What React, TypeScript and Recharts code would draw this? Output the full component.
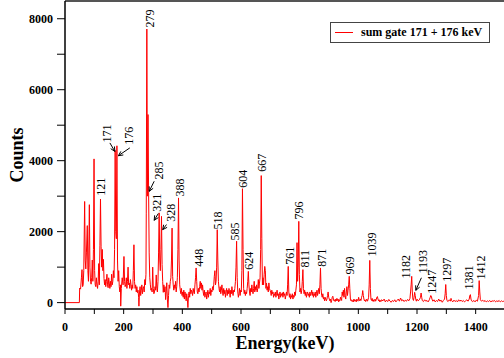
import React from "react"
import {
  ComposedChart,
  Line,
  Scatter,
  XAxis,
  YAxis,
  ReferenceLine,
  Label,
} from "recharts"

// spectrum: [energy keV, counts]
const spectrumLow: [number, number][] = [
  [0, 0], [49, 0], [50, 410], [53, 380], [56, 700], [58, 930], [60, 450], [62, 500], [64, 900],
  [67, 2850], [69, 1200], [71, 950], [73, 1400], [76, 2170], [78, 900], [80, 600], [83, 2760],
  [85, 1000], [87, 600], [89, 520], [91, 700], [93, 1200], [95, 600], [97, 1500], [99, 4050],
  [101, 900], [103, 500], [105, 450], [107, 700], [109, 500], [111, 400], [113, 600], [115, 1100],
  [117, 500], [119, 1600], [121, 2920], [123, 1590], [125, 1000], [127, 1500], [129, 900],
  [131, 1220], [133, 680], [135, 500], [137, 650], [139, 450], [141, 600], [143, 800], [145, 500],
  [147, 420], [149, 700], [151, 550], [153, 400], [155, 600], [157, 450], [159, 800], [161, 500],
  [163, 600], [165, 900], [167, 700], [169, 1500], [171, 4290], [173, 2000], [175, 1800],
  [177, 4420], [179, 1200], [181, 600], [183, 900], [185, 450], [187, 300], [189, 500], [190, -100],
  [192, 400], [195, 700], [198, 500], [201, 1300], [203, 600], [205, 450], [207, 500], [209, 700],
  [211, 400], [213, 600], [215, 1000], [217, 500], [219, 550], [221, 400], [223, 650], [225, 500],
  [227, 350], [229, 500], [231, 400], [233, 900], [235, 1630], [237, 600], [239, 400], [241, 500],
  [243, 300], [245, 450], [247, 280], [249, 350], [251, 150], [252, -100], [254, 300], [256, 450],
  [258, 200], [260, 350], [262, 500], [264, 250], [266, 400], [268, 450], [270, 300], [272, 650],
  [274, 500], [276, 800], [277, 2500], [279, 7710], [281, 3000], [283, 5300], [285, 3140],
  [287, 1400], [289, 700], [291, 500], [293, 350], [295, 400], [297, 300], [299, 1000], [301, 400],
  [303, 250], [305, 300], [307, 450], [309, 350], [311, 780], [313, 400], [315, 300], [317, 600],
  [319, 1400], [321, 2530], [323, 1200], [325, 900], [327, 1500], [329, 2430], [331, 1070],
  [333, 600], [335, 290], [337, 500], [339, 300], [341, 450], [343, 85], [345, 300], [347, 560],
  [349, 100],
]

const spectrumMid: [number, number][] = [
  [351, -140], [353, 200], [355, 500], [357, 400], [359, 600], [361, 700], [363, 1200], [365, 2100],
  [367, 740], [369, 500], [371, 350], [373, 500], [375, 400], [377, 600], [379, 300], [381, 450],
  [383, 700], [385, 1500], [387, 2950], [389, 1200], [391, 500], [393, 350], [395, 250], [397, 400],
  [399, 200], [401, 300], [403, 150], [405, 350], [407, 100], [409, 300], [411, 200], [413, 50],
  [415, 250], [417, 100], [419, -140], [421, 200], [423, 300], [425, 150], [427, 400], [429, 250],
  [431, 350], [433, 300], [435, 200], [437, 400], [439, 300], [441, 250], [443, 500], [445, 700],
  [447, 977], [449, 600], [451, 300], [453, 250], [455, 400], [457, 300], [459, 450], [461, 600],
  [463, 400], [465, 555], [467, 350], [469, 500], [471, 300], [473, 200], [475, 350], [477, 150],
  [479, 250], [481, 300], [483, 100], [485, 200], [487, 350], [489, 150], [491, 300], [493, 250],
  [495, 400], [497, 200], [499, 350], [501, 300], [503, 450], [505, 350], [507, 500], [509, 740],
  [511, 900], [513, 500], [515, 600], [517, 1000], [519, 2056], [521, 1200], [523, 600], [525, 400],
  [527, 300], [529, 450], [531, 250], [533, 350], [535, 500], [537, 300], [539, 200], [541, 400],
  [543, 250], [545, 350], [547, 150], [549, 300], [551, 400], [553, 200], [555, 350], [557, 250],
  [559, 400], [561, 300], [563, 150], [565, 350], [567, 250], [569, 450], [571, 300], [573, 200],
  [575, 350], [577, 300], [579, 400], [581, 600], [583, 1000], [585, 1730], [587, 700], [589, 300],
  [591, 150], [593, 250], [595, 400], [597, 200], [599, 350], [601, 300], [603, 900], [605, 3210],
  [607, 1500], [609, 400], [611, 250], [613, 350], [615, 200], [617, 300], [619, 250], [621, 400],
  [623, 600], [625, 880], [627, 500], [629, 300], [631, 200], [633, 400], [635, 300], [637, 500],
  [639, 350], [641, 250], [643, 400], [645, 600], [647, 300], [649, 450], [651, 350], [653, 500],
  [655, 300], [657, 400], [659, 650], [661, 400], [663, 550], [665, 700], [667, 1500], [669, 3580],
  [671, 1800], [673, 500], [675, 700], [677, 500], [679, 800], [681, 1020], [683, 900], [685, 400],
  [687, 550], [689, 350], [691, 450], [693, 300], [695, 555], [697, 400], [699, 350],
]

const spectrumHigh: [number, number][] = [
  [701, 300], [703, 200], [705, 350], [707, 250], [709, 300], [711, 150], [713, 250], [715, 200],
  [717, 300], [719, 150], [721, 250], [723, 350], [725, 200], [727, 250], [729, 100], [731, 200],
  [733, 300], [735, 150], [737, 250], [739, 200], [741, 280], [743, 150], [745, 300], [747, 200],
  [749, 250], [751, 100], [753, 200], [755, 300], [757, 200], [759, 500], [761, 1020], [763, 300],
  [765, 150], [767, 250], [769, 100], [771, 200], [773, 150], [775, 250], [777, 100], [779, 200],
  [781, 150], [783, 300], [785, 200], [787, 350], [789, 500], [791, 1690], [793, 600], [795, 1000],
  [797, 2290], [799, 800], [801, 300], [803, 400], [805, 250], [807, 350], [809, 600], [811, 930],
  [813, 400], [815, 250], [817, 350], [819, 200], [821, 300], [823, 150], [825, 250], [827, 300],
  [829, 200], [831, 250], [833, 150], [835, 300], [837, 200], [839, 250], [841, 350], [843, 200],
  [845, 300], [847, 150], [849, 250], [851, 200], [853, 300], [855, 150], [857, 250], [859, 350],
  [861, 200], [863, 300], [865, 400], [867, 250], [869, 500], [871, 977], [873, 400], [875, 200],
  [877, 150], [879, 250], [881, 100], [883, 150], [885, 50], [887, 150], [889, 100], [891, 50],
  [893, 100], [895, 200], [897, 300], [899, 150], [901, 100], [903, 50], [905, 100], [907, 0],
  [909, 50], [911, 150], [913, 180], [915, 100], [917, 50], [919, 80], [921, 30], [923, 100],
  [925, 50], [927, 120], [929, 60], [931, 100], [933, 20], [935, 80], [937, 50], [939, 150],
  [941, 100], [943, 60], [945, 300], [947, 200], [949, 350], [951, 150], [953, 400], [955, 200],
  [957, 100], [959, 300], [961, 450], [963, 200], [965, 350], [967, 500], [969, 740], [971, 400],
  [973, 100], [975, 50], [977, 80], [979, 30], [981, 60], [983, 20], [985, 100], [987, 40],
  [989, 80], [991, 50], [993, 20], [995, 100], [997, 60], [999, 40], [1001, 150], [1003, 80],
  [1005, 50], [1007, 100], [1009, 60], [1011, 150], [1013, 200], [1015, 340], [1017, 200],
  [1019, 100], [1021, 50], [1023, 80], [1025, 30], [1027, 60], [1029, 100], [1031, 40], [1033, 80],
  [1035, 150], [1037, 500], [1039, 1190], [1041, 400], [1043, 100], [1045, 60], [1047, 120],
  [1049, 40], [1051, 80], [1053, 30], [1055, 60], [1057, 100], [1059, 40], [1061, 80], [1063, 150],
  [1065, 170], [1067, 100], [1069, 50], [1071, 80], [1073, 20], [1075, 60], [1077, 30], [1079, 80],
]

const spectrumTail: [number, number][] = [
  [1084, 50], [1088, 100], [1092, 20], [1096, 70], [1100, 30], [1104, 90], [1108, 40], [1112, 10],
  [1116, 60], [1120, 30], [1124, 80], [1128, 20], [1132, 60], [1136, 100], [1140, 40], [1144, 130],
  [1148, 50], [1152, 80], [1156, 30], [1160, 70], [1164, 40], [1168, 90], [1172, 50], [1176, 120],
  [1178, 300], [1180, 500], [1182, 740], [1184, 300], [1186, 100], [1188, 60], [1190, 150],
  [1192, 290], [1194, 200], [1196, 80], [1198, 40], [1200, 100], [1204, 50], [1208, 80],
  [1212, 150], [1214, 270], [1216, 150], [1218, 60], [1222, 30], [1226, 80], [1230, 40], [1234, 60],
  [1238, 20], [1242, 80], [1245, 150], [1247, 200], [1249, 180], [1251, 100], [1254, 40], [1258, 80],
  [1262, 20], [1266, 60], [1270, 30], [1274, 100], [1278, 40], [1282, 70], [1286, 10], [1290, 60],
  [1294, 100], [1296, 250], [1298, 510], [1300, 200], [1302, 60], [1306, 30], [1310, 80], [1314, 40],
  [1316, 120], [1318, 60], [1322, 20], [1326, 70], [1330, 30], [1334, 60], [1338, 20], [1342, 80],
  [1346, 40], [1350, 70], [1354, 30], [1358, 60], [1362, 20], [1366, 50], [1370, 80], [1374, 40],
  [1378, 100], [1380, 200], [1382, 225], [1384, 100], [1386, 50], [1390, 30], [1394, 60], [1398, 20],
  [1402, 70], [1406, 40], [1410, 200], [1412, 620], [1414, 300], [1416, 80], [1420, 40], [1424, 70],
  [1428, 30], [1432, 60], [1436, 20], [1440, 50], [1444, 30], [1448, 60], [1452, 20], [1456, 50],
  [1460, 40], [1464, 60], [1468, 20], [1472, 50], [1476, 30], [1480, 60], [1484, 20], [1488, 50],
  [1492, 30], [1496, 40], [1500, 30],
]

// peak labels: text, energy of the label position, counts at the foot of the text
const peakNames = ["121", "171", "176", "279", "285", "321", "328", "388", "448", "518", "585", "604", "624", "667", "761", "796", "811", "871", "969", "1039", "1182", "1193", "1247", "1297", "1381", "1412"]
const peakLabelE = [122, 143, 218, 289, 320, 313, 360, 391, 456, 521, 581, 606, 627, 670, 767, 799, 817, 875, 971, 1045, 1164, 1222, 1252, 1303, 1377, 1417]
const peakLabelC = [3010, 4510, 4450, 7750, 3470, 2560, 2280, 2990, 1010, 2060, 1750, 3240, 930, 3690, 1070, 2340, 990, 1010, 790, 1300, 680, 820, 250, 590, 370, 650]

// arrows: [fromE, fromC, toE, toC]
const arrows: [number, number, number, number][] = [
  [153, 4500, 170, 4260],
  [221, 4360, 182, 4140],
  [304, 3420, 287, 3135],
  [318, 2510, 304, 2320],
  [346, 2200, 333, 2056],
  [1215, 700, 1196, 346],
]

const xTicks = [0, 100, 200, 300, 400, 500, 600, 700, 800, 900, 1000, 1100, 1200, 1300, 1400, 1500]
const yTicks = [0, 1000, 2000, 3000, 4000, 5000, 6000, 7000, 8000]

const spectrum = [...spectrumLow, ...spectrumMid, ...spectrumHigh, ...spectrumTail].map(([e, c]) => ({ e, c }))
const labelData = peakNames.map((name, i) => ({ name, e: peakLabelE[i], c: peakLabelC[i] }))

const FONT = "'Liberation Serif', 'Times New Roman', serif"
const tickStyle = { fontFamily: FONT, fontWeight: "bold" as const, fontSize: 12, fill: "#000" }

const PeakLabel = (props: any) => {
  const { cx, cy, payload } = props
  if (cx == null || cy == null) return null
  const x = cx + 4
  return (
    <text
      x={x}
      y={cy}
      transform={`rotate(-90 ${x} ${cy})`}
      textAnchor="start"
      fontFamily={FONT}
      fontSize={12}
      fill="#000"
    >
      {payload.name}
    </text>
  )
}

const Arrow = (props: any) => {
  const { x1, y1, x2, y2 } = props
  const a = Math.atan2(y2 - y1, x2 - x1)
  const h = 5
  const p1 = [x2 - h * Math.cos(a - 0.45), y2 - h * Math.sin(a - 0.45)]
  const p2 = [x2 - h * Math.cos(a + 0.45), y2 - h * Math.sin(a + 0.45)]
  return (
    <g stroke="#000" strokeWidth={1} fill="none">
      <line x1={x1} y1={y1} x2={x2} y2={y2} />
      <polyline points={`${p1[0]},${p1[1]} ${x2},${y2} ${p2[0]},${p2[1]}`} />
    </g>
  )
}

// legend box drawn over the plot (a recharts Legend would take room from the plot)
const LegendBox = () => (
  <div
    style={{
      position: "absolute",
      left: 330,
      top: 22,
      border: "1px solid #444",
      background: "#fff",
      width: 160,
      height: 21,
      display: "flex",
      alignItems: "center",
      boxSizing: "border-box",
    }}
  >
    <div style={{ width: 18, height: 1, background: "#ff0000", marginLeft: 4, marginRight: 8 }} />
    <span style={{ fontFamily: FONT, fontWeight: "bold", fontSize: 12, color: "#000", whiteSpace: "nowrap" }}>
      sum gate 171 + 176 keV
    </span>
  </div>
)

export default function App() {
  return (
    <div style={{ position: "absolute", left: 0, top: 0, width: 504, height: 358, overflow: "hidden", background: "#fff" }}>
      <ComposedChart width={510} height={358} data={spectrum} margin={{ top: 1, right: 5, bottom: 0, left: 0 }}>
        <XAxis
          dataKey="e"
          type="number"
          domain={[0, 1500]}
          ticks={xTicks}
          allowDataOverflow
          height={49}
          tickSize={5}
          tickMargin={8}
          tick={tickStyle}
          tickFormatter={(v: number) => (v % 200 === 0 ? String(v) : "")}
          axisLine={{ stroke: "#000", strokeWidth: 1.5 }}
          tickLine={{ stroke: "#000", strokeWidth: 1 }}
        >
          <Label
            content={(p: any) => {
              const vb = p.viewBox || { x: 65, y: 309, width: 441 }
              return (
                <text
                  x={vb.x + vb.width / 2}
                  y={vb.y + 40}
                  textAnchor="middle"
                  fontFamily={FONT}
                  fontWeight="bold"
                  fontSize={18}
                  fill="#000"
                >
                  Energy(keV)
                </text>
              )
            }}
          />
        </XAxis>
        <YAxis
          type="number"
          domain={[-180, 8500]}
          ticks={yTicks}
          allowDataOverflow
          width={65}
          tickSize={8}
          tickMargin={4}
          tick={tickStyle}
          tickFormatter={(v: number) => (v % 2000 === 0 ? String(v) : "")}
          axisLine={{ stroke: "#000", strokeWidth: 1.5 }}
          tickLine={{ stroke: "#000", strokeWidth: 1 }}
        >
          <Label
            content={(p: any) => {
              const vb = p.viewBox || { x: 0, y: 1, height: 308 }
              const cy = vb.y + vb.height / 2
              return (
                <text
                  x={23}
                  y={cy}
                  transform={`rotate(-90 23 ${cy})`}
                  textAnchor="middle"
                  fontFamily={FONT}
                  fontWeight="bold"
                  fontSize={18}
                  fill="#000"
                >
                  Counts
                </text>
              )
            }}
          />
        </YAxis>
        <ReferenceLine y={8500} stroke="#555" strokeWidth={2} />
        <Line
          type="linear"
          dataKey="c"
          stroke="#ff0000"
          strokeWidth={1}
          dot={false}
          isAnimationActive={false}
        />
        <Scatter data={labelData} dataKey="c" shape={PeakLabel} isAnimationActive={false} />
        {arrows.map(([e1, c1, e2, c2], i) => (
          <ReferenceLine
            key={i}
            segment={[{ x: e1, y: c1 }, { x: e2, y: c2 }]}
            shape={Arrow}
          />
        ))}
      </ComposedChart>
      <LegendBox />
    </div>
  )
}
